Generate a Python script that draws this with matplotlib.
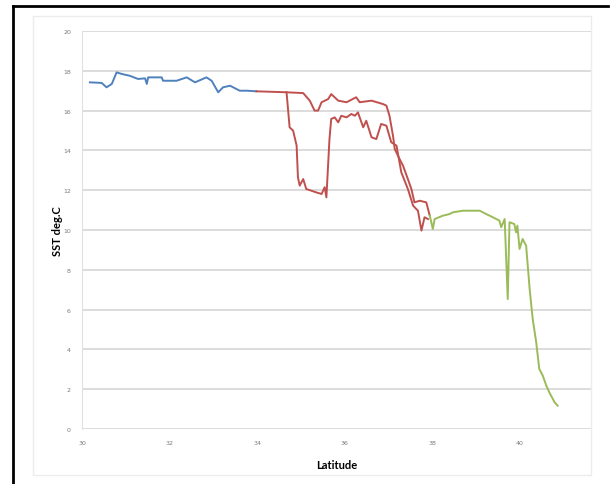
import numpy as np
from matplotlib import pyplot as plt
from matplotlib.lines import Line2D
from matplotlib.patches import Rectangle

# leg 1 (blue)
lat_blue = [30.18, 30.45, 30.56, 30.68, 30.79, 30.91, 31.09, 31.28, 31.44, 31.48, 31.51,
            31.82, 31.85, 32.16, 32.39, 32.58, 32.84, 32.96, 33.11, 33.22, 33.38, 33.6,
            33.76, 33.98]
sst_blue = [17.42, 17.39, 17.17, 17.34, 17.92, 17.84, 17.75, 17.59, 17.62, 17.34, 17.67,
            17.67, 17.5, 17.5, 17.67, 17.42, 17.67, 17.5, 16.92, 17.17, 17.25, 17.0,
            17.0, 16.97]

# leg 2 (red), two passes
lat_red1 = [33.98, 34.67, 35.05, 35.2, 35.31, 35.39, 35.47, 35.62, 35.69, 35.85, 36.04,
            36.26, 36.34, 36.61, 36.87, 36.95, 37.02, 37.1, 37.14, 37.25, 37.33, 37.44,
            37.52, 37.59, 37.71, 37.86, 37.94]
sst_red1 = [16.97, 16.92, 16.88, 16.5, 16.0, 16.0, 16.42, 16.58, 16.83, 16.5, 16.42,
            16.67, 16.42, 16.5, 16.33, 16.25, 15.74, 14.74, 14.07, 13.57, 13.23, 12.56,
            12.06, 11.39, 11.47, 11.39, 10.72]
lat_red2 = [34.67, 34.74, 34.82, 34.9, 34.93, 34.97, 35.05, 35.12, 35.35, 35.47, 35.54,
            35.58, 35.65, 35.69, 35.77, 35.85, 35.92, 36.04, 36.15, 36.23, 36.3, 36.42,
            36.49, 36.61, 36.72, 36.83, 36.95, 37.06, 37.18, 37.29, 37.44, 37.56, 37.67,
            37.75, 37.82, 37.9]
sst_red2 = [16.92, 15.16, 14.99, 14.24, 12.65, 12.23, 12.56, 12.06, 11.89, 11.81, 12.15,
            11.64, 14.57, 15.58, 15.66, 15.41, 15.74, 15.66, 15.83, 15.74, 15.91, 15.16,
            15.49, 14.66, 14.57, 15.33, 15.24, 14.41, 14.24, 12.9, 12.06, 11.22, 10.97,
            9.97, 10.64, 10.55]

# leg 3 (green)
lat_green = [37.94, 38.01, 38.05, 38.24, 38.39, 38.47, 38.7, 39.08, 39.23, 39.38, 39.53,
             39.57, 39.65, 39.72, 39.76, 39.87, 39.91, 39.94, 39.99, 40.06, 40.14, 40.22,
             40.29, 40.37, 40.44, 40.52, 40.6, 40.67, 40.79, 40.86]
sst_green = [10.72, 10.05, 10.55, 10.72, 10.8, 10.89, 10.97, 10.97, 10.8, 10.64, 10.47,
             10.14, 10.55, 6.53, 10.39, 10.3, 9.88, 10.22, 9.05, 9.55, 9.21, 7.04,
             5.53, 4.36, 3.02, 2.68, 2.18, 1.84, 1.34, 1.17]

xticks = [30, 32, 34, 36, 38, 40]
yticks = [0, 2, 4, 6, 8, 10, 12, 14, 16, 18, 20]

W, H = 610, 485
fig = plt.figure(figsize=(W / 100, H / 100), dpi=100)

# outer black frame (top and left edges only are in view)
fig.add_artist(Line2D([13 / W, 0.997], [1 - 7 / H, 1 - 7 / H], transform=fig.transFigure,
                      color='black', lw=2))
fig.add_artist(Line2D([13 / W, 13 / W], [0, 1 - 7 / H], transform=fig.transFigure,
                      color='black', lw=2))
# inner chart area box
fig.patches.append(Rectangle((33 / W, 1 - 476 / H), (591 - 33) / W, (476 - 17) / H,
                             transform=fig.transFigure, fill=False, edgecolor='#ececec',
                             linewidth=1))

ax = fig.add_axes([82 / W, 1 - 430 / H, (591 - 82) / W, (430 - 32) / H])
lw = 1.4
ax.plot(lat_blue, sst_blue, color='#4f81bd', lw=lw)
ax.plot(lat_red1, sst_red1, color='#c0504d', lw=lw)
ax.plot(lat_red2, sst_red2, color='#c0504d', lw=lw)
ax.plot(lat_green, sst_green, color='#9bbb59', lw=lw)

ax.set_xlim(30, 30 + (591 - 82) / 43.8)
ax.set_ylim(0, 20)
ax.set_xticks(xticks)
ax.set_yticks(yticks)
ax.tick_params(labelsize=4.5, labelcolor='#7a7a7a', length=0, pad=8)
ax.grid(axis='y', color='#d9d9d9', lw=1.3)
ax.set_axisbelow(True)
for s in ['top', 'right', 'bottom']:
    ax.spines[s].set_visible(False)
ax.spines['left'].set_color('#e0e0e0')
ax.set_xlabel('Latitude', fontsize=8, fontweight='bold', family='Lato', labelpad=10)
ax.set_ylabel('SST deg.C', fontsize=8, fontweight='bold', family='Lato', labelpad=0)

fig.savefig('out.png', dpi=100)
